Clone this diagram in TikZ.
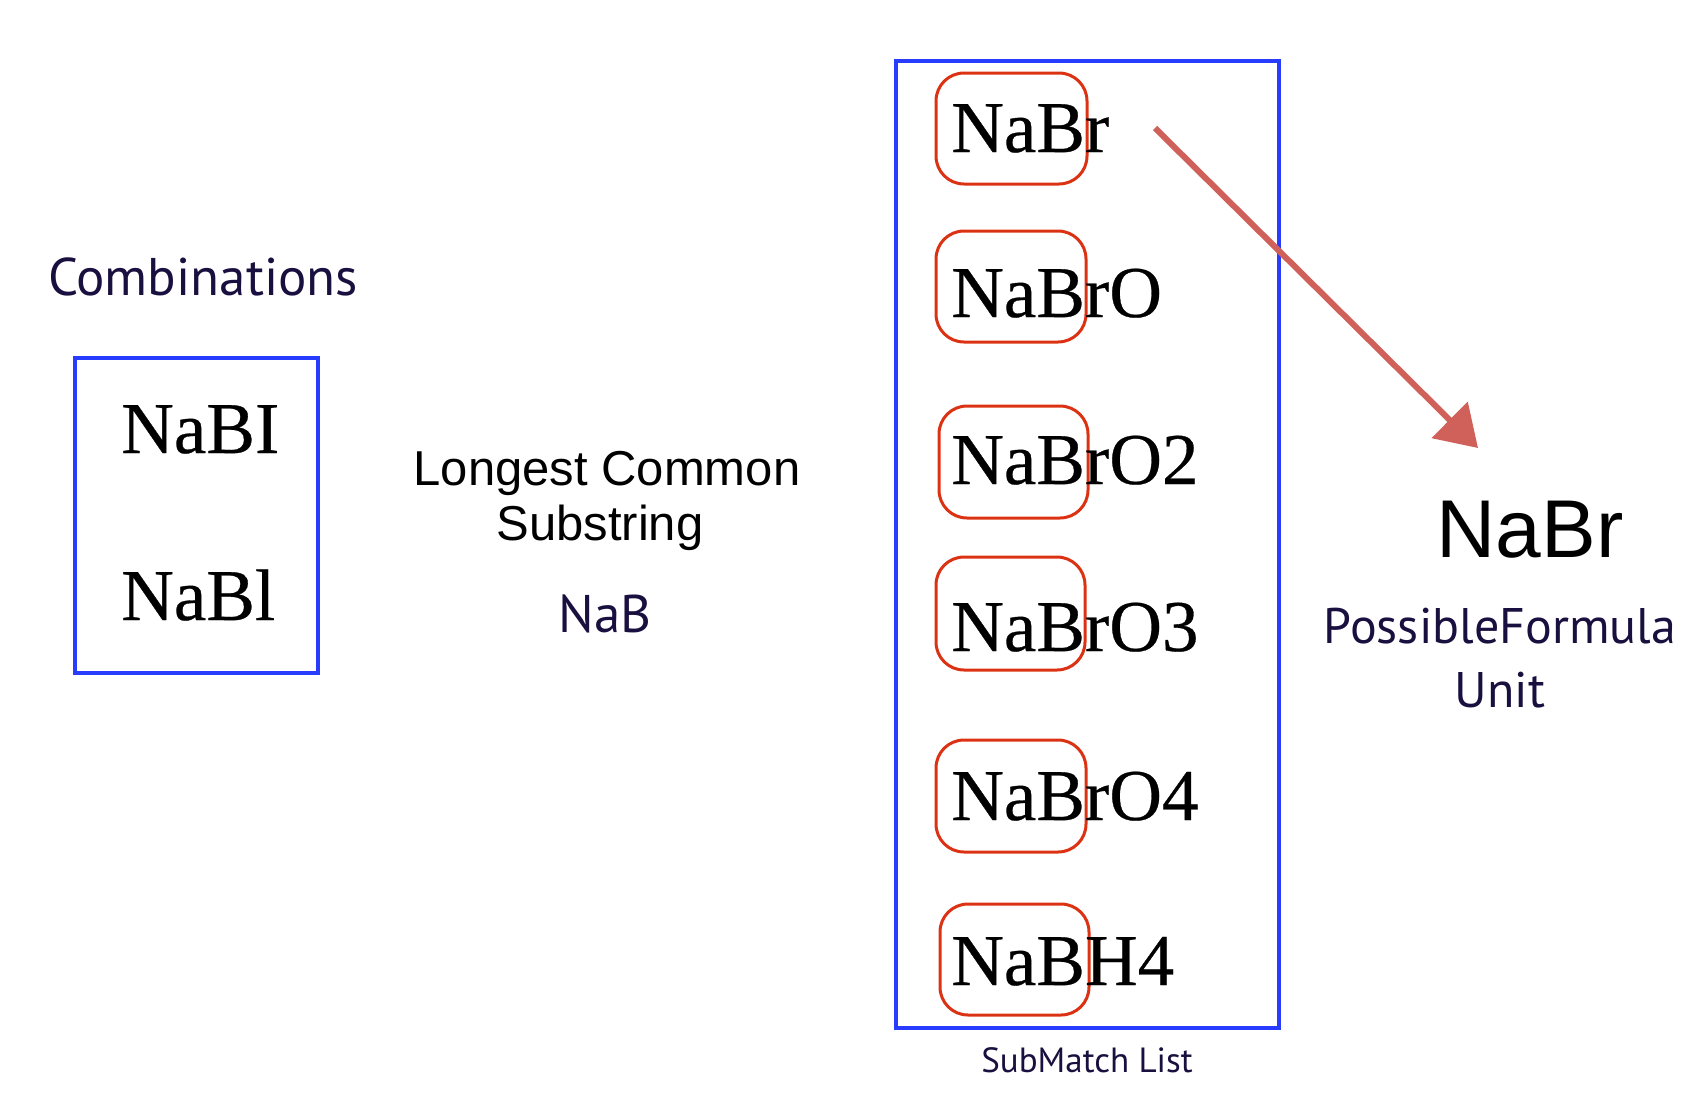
\documentclass[tikz,border=0pt]{standalone}
\usepackage{fontspec}
\setmainfont{Liberation Serif}
\newfontfamily\timesb[FakeBold=0.4]{Liberation Serif}
\newfontfamily\helv{Liberation Sans}
\newfontfamily\gill{PT Sans}
\usetikzlibrary{arrows.meta}
\definecolor{navy}{RGB}{26,16,64}
\definecolor{boxblue}{RGB}{40,60,255}
\definecolor{boxred}{RGB}{220,50,20}
\definecolor{arrowred}{RGB}{208,96,90}
\tikzset{
  bluebox/.style={draw=boxblue, line width=3.5pt},
  redbox/.style={draw=boxred, line width=3pt, rounded corners=28pt},
  timestxt/.style={inner sep=0pt, anchor=base west, font=\timesb\fontsize{73}{80}\selectfont},
  gilltxt/.style={inner sep=0pt, anchor=base, text=navy},
  helvtxt/.style={inner sep=0pt, anchor=base},
  sketcharrow/.style={draw=arrowred, line width=6pt, -{Triangle[length=40pt, width=50pt]}}
}
\begin{document}
\begin{tikzpicture}[x=1pt, y=-1pt]
\useasboundingbox (0,0) rectangle (1698,1098);

% Left: combinations
\node[gilltxt, font=\gill\fontsize{53}{60}\selectfont] (comb) at (203,295) {Combinations};
\draw[bluebox] (75,358) rectangle (318,673);
\node[timestxt] (c1) at (121,453) {NaBI};
\node[timestxt] (c2) at (121,620) {NaBl};

% Middle: longest common substring
\node[helvtxt, font=\helv\fontsize{49}{55}\selectfont] (lcs1) at (607,485) {Longest Common};
\node[helvtxt, font=\helv\fontsize{49}{55}\selectfont] (lcs2) at (600,540) {Substring};
\node[gilltxt, font=\gill\fontsize{53}{60}\selectfont] (nab) at (605,632) {NaB};

% SubMatch list
\draw[bluebox] (896,61) rectangle (1279,1028);
\draw[redbox] (936,73) rectangle (1087,184);
\node[timestxt] (s1) at (951,152) {NaBr};
\draw[redbox] (936,231) rectangle (1086,342);
\node[timestxt] (s2) at (951,317) {NaBrO};
\draw[redbox] (939,406) rectangle (1088,518);
\node[timestxt] (s3) at (951,484) {NaBrO2};
\draw[redbox] (936,557) rectangle (1085,670);
\node[timestxt] (s4) at (951,651) {NaBrO3};
\draw[redbox] (936,740) rectangle (1086,852);
\node[timestxt] (s5) at (951,820) {NaBrO4};
\draw[redbox] (940,904) rectangle (1089,1015);
\node[timestxt] (s6) at (951,985) {NaBH4};
\node[gilltxt, font=\gill\fontsize{35}{40}\selectfont] (sml) at (1087,1072) {SubMatch List};

% Result
\node[helvtxt, font=\helv\fontsize{82}{90}\selectfont] (res) at (1530,557) {NaBr};
\node[gilltxt, font=\gill\fontsize{50}{56}\selectfont] (pf1) at (1500,643) {PossibleFormula};
\node[gilltxt, font=\gill\fontsize{50}{56}\selectfont] (pf2) at (1500,707) {Unit};

% Arrow
\coordinate (as) at (1155,128);
\coordinate (ae) at (1478,448);
\draw[sketcharrow] (as) -- (ae);
\end{tikzpicture}
\end{document}
